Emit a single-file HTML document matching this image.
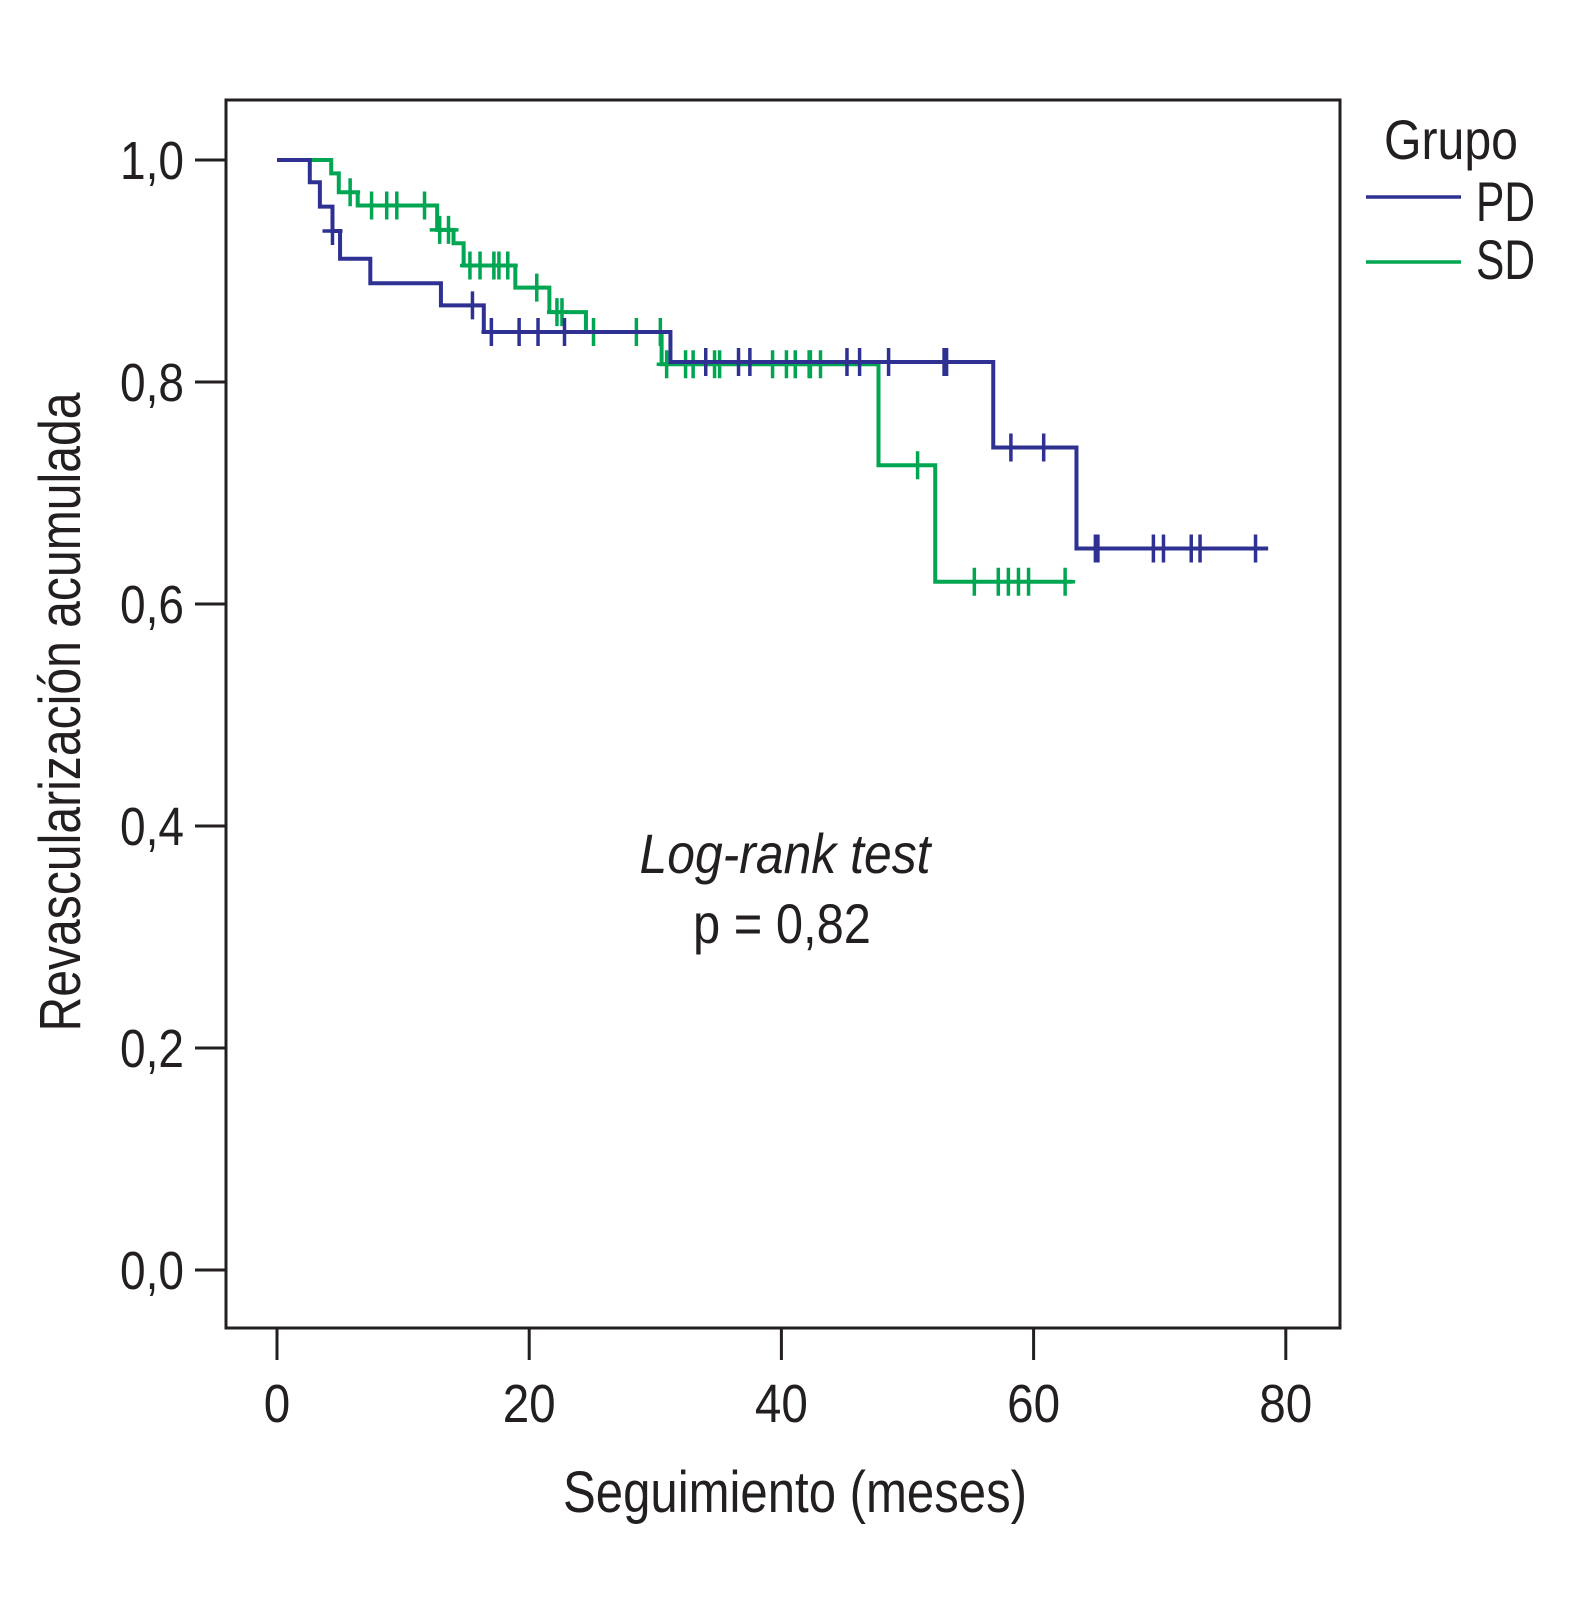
<!DOCTYPE html>
<html><head><meta charset="utf-8"><style>
html,body{margin:0;padding:0;background:#fff;}
svg{display:block;}
text{font-family:"Liberation Sans Narrow","Liberation Sans",sans-serif;fill:#231f20;}
</style></head><body>
<svg id="chart" width="1575" height="1608" viewBox="0 0 1575 1608" xmlns="http://www.w3.org/2000/svg">
<rect x="226" y="100" width="1114" height="1228" fill="none" stroke="#231f20" stroke-width="3"/>
<g id="yaxis"></g>
<g id="xaxis"></g>
<g id="series"></g>
<text x="795" y="1512" font-size="58" text-anchor="middle" textLength="464" lengthAdjust="spacingAndGlyphs">Seguimiento (meses)</text>
<text transform="translate(80,712) rotate(-90)" font-size="58" text-anchor="middle" textLength="639" lengthAdjust="spacingAndGlyphs">Revascularización acumulada</text>
<text x="785" y="873" font-size="56" font-style="italic" text-anchor="middle" textLength="291" lengthAdjust="spacingAndGlyphs">Log-rank test</text>
<text x="782" y="943" font-size="56" text-anchor="middle" textLength="178" lengthAdjust="spacingAndGlyphs">p = 0,82</text>
<g>
<text x="1384" y="159" font-size="56" textLength="134" lengthAdjust="spacingAndGlyphs">Grupo</text>
<line x1="1366" y1="197" x2="1461" y2="197" stroke="#2e3192" stroke-width="3.5"/>
<text x="1476" y="221" font-size="56" textLength="59" lengthAdjust="spacingAndGlyphs">PD</text>
<line x1="1366" y1="262" x2="1461" y2="262" stroke="#00a651" stroke-width="3.5"/>
<text x="1476" y="279" font-size="56" textLength="59" lengthAdjust="spacingAndGlyphs">SD</text>
</g>
</svg>
<script>
const yTicks = [0, 0.2, 0.4, 0.6, 0.8, 1.0];
const yTickLabels = ["0,0", "0,2", "0,4", "0,6", "0,8", "1,0"];
const xTicks = [0, 20, 40, 60, 80];
const xTickLabels = ["0", "20", "40", "60", "80"];
// PD: step times (months) and survival after each step
const pdTimes = [0, 2.6, 3.4, 4.4, 5.0, 7.4, 13.0, 16.4, 31.2, 56.8, 63.4];
const pdSurv = [1.0, 0.980, 0.958, 0.936, 0.911, 0.889, 0.869, 0.845, 0.818, 0.741, 0.650];
const pdEnd = 78.6;
const pdCensor = [4.4, 15.5, 17.0, 19.2, 20.7, 22.8, 34.0, 36.6, 37.5, 45.2, 46.2, 48.5, 52.9, 53.1, 58.2, 60.8, 64.9, 65.1, 69.5, 70.3, 72.5, 73.2, 77.6];
// SD
const sdTimes = [0, 4.3, 4.9, 6.4, 12.7, 14.0, 14.8, 18.9, 21.6, 24.5, 30.5, 47.7, 52.2];
const sdSurv = [1.0, 0.988, 0.971, 0.959, 0.937, 0.925, 0.905, 0.885, 0.863, 0.845, 0.816, 0.725, 0.620];
const sdEnd = 63.1;
const sdCensor = [5.8, 7.5, 8.7, 9.5, 11.7, 12.9, 13.6, 15.3, 16.1, 17.2, 17.6, 18.3, 20.6, 22.2, 22.6, 25.1, 28.5, 30.4, 30.9, 32.4, 33.0, 34.7, 35.1, 39.3, 40.4, 41.1, 42.2, 42.3, 43.1, 50.8, 55.3, 57.2, 58.0, 58.8, 59.6, 62.5];

const NS = "http://www.w3.org/2000/svg";
const xs = m => 277 + m * 12.61;
const ys = v => 1270 - v * 1110;
function mk(tag, attrs, parent) {
  const e = document.createElementNS(NS, tag);
  for (const k in attrs) e.setAttribute(k, attrs[k]);
  parent.appendChild(e);
  return e;
}
const yax = document.getElementById('yaxis');
yTicks.forEach((v, i) => {
  const l = mk('line', {x1: 195, x2: 226, y1: ys(v), y2: ys(v), stroke: '#231f20', 'stroke-width': 3}, yax);
  
  
  const t = mk('text', {x: 184, y: ys(v) + 19, 'font-size': 54, 'text-anchor': 'end', textLength: 64, lengthAdjust: 'spacingAndGlyphs'}, yax);
  t.textContent = yTickLabels[i];
  
  
});
const xax = document.getElementById('xaxis');
xTicks.forEach((m, i) => {
  const l = mk('line', {x1: xs(m), x2: xs(m), y1: 1328, y2: 1360, stroke: '#231f20', 'stroke-width': 3}, xax);
  
  
  const t = mk('text', {x: xs(m), y: 1422, 'font-size': 54, 'text-anchor': 'middle', textLength: xTickLabels[i].length * 26.5, lengthAdjust: 'spacingAndGlyphs'}, xax);
  t.textContent = xTickLabels[i];
  
  
});
function survAt(times, surv, t) {
  let s = surv[0];
  for (let i = 0; i < times.length; i++) if (times[i] <= t) s = surv[i];
  return s;
}
function drawSeries(times, surv, end, censor, color, name) {
  const g = mk('g', {}, document.getElementById('series'));
  
  
  let d = 'M' + xs(times[0]) + ' ' + ys(surv[0]);
  for (let i = 1; i < times.length; i++) {
    d += ' H' + xs(times[i]) + ' V' + ys(surv[i]);
  }
  d += ' H' + xs(end);
  const p = mk('path', {d: d, fill: 'none', stroke: color, 'stroke-width': 4}, g);
  
  
  censor.forEach(c => {
    const y = ys(survAt(times, surv, c));
    const m = mk('path', {d: 'M' + xs(c) + ' ' + (y - 14) + ' V' + (y + 14) + ' M' + (xs(c) - 10) + ' ' + y + ' H' + (xs(c) + 10), stroke: color, 'stroke-width': 3.5, fill: 'none'}, g);
    
    
  });
}
drawSeries(sdTimes, sdSurv, sdEnd, sdCensor, '#00a651', 'sd');
drawSeries(pdTimes, pdSurv, pdEnd, pdCensor, '#2e3192', 'pd');
</script>
</body></html>
